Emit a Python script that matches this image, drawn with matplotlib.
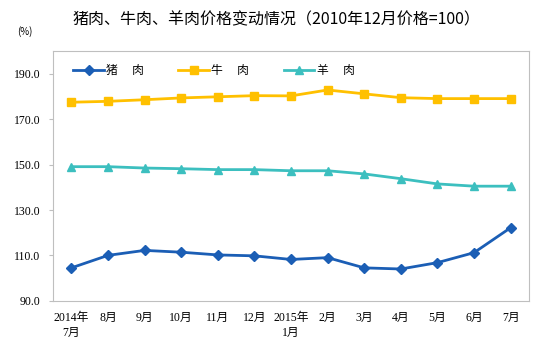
import matplotlib.pyplot as plt

plt.rcParams['font.family'] = ['Liberation Serif', 'Noto Sans CJK SC']

months = ['2014年\n7月', '8月', '9月', '10月', '11月', '12月', '2015年\n1月',
          '2月', '3月', '4月', '5月', '6月', '7月']
pork = [104.5, 110.0, 112.2, 111.4, 110.2, 109.8, 108.2, 109.0, 104.5, 104.0, 106.8, 111.2, 122.2]
beef = [177.5, 177.9, 178.6, 179.4, 179.9, 180.4, 180.3, 182.9, 181.2, 179.5, 179.1, 179.1, 179.1]
lamb = [149.1, 149.1, 148.5, 148.2, 147.8, 147.8, 147.3, 147.3, 145.9, 143.8, 141.5, 140.5, 140.5]
yticks = [90, 110, 130, 150, 170, 190]

fig = plt.figure(figsize=(5.47, 3.53), dpi=100)
ax = fig.add_axes([0.097, 0.148, 0.870, 0.707])

x = range(len(months))
ax.plot(x, pork, color='#1B5EB5', lw=2, marker='D', ms=5, label='猪　 肉')
ax.plot(x, beef, color='#FFC000', lw=2, marker='s', ms=5.5, label='牛　 肉')
ax.plot(x, lamb, color='#3CBFBF', lw=2, marker='^', ms=6, label='羊　 肉')

ax.set_xlim(-0.5, len(months) - 0.5)
ax.set_ylim(90, 200)
ax.set_yticks(yticks)
ax.set_yticklabels(['%.1f' % v for v in yticks])
ax.set_xticks(list(x))
ax.set_xticklabels(months, linespacing=1.3, va='top')

for s in ax.spines.values():
    s.set_color('#BFBFBF')
ax.tick_params(axis='y', labelsize=8.5, length=3, color='#BFBFBF', pad=6)
ax.tick_params(axis='x', labelsize=8.5, length=0, pad=8)

leg = ax.legend(loc='upper left', bbox_to_anchor=(0.02, 0.99), ncol=3, frameon=False,
                handlelength=2.6, columnspacing=2.9, handletextpad=0.2,
                prop={'family': ['Noto Sans CJK SC'], 'size': 8.5})

fig.text(0.505, 0.945, '猪肉、牛肉、羊肉价格变动情况（2010年12月价格=100）',
         ha='center', va='center', fontsize=11.5, family=['Noto Sans CJK SC'])
fig.text(0.045, 0.91, '(%)', ha='center', va='center', fontsize=7,
         family=['Noto Sans CJK SC'])

fig.savefig('out.png', dpi=100)
